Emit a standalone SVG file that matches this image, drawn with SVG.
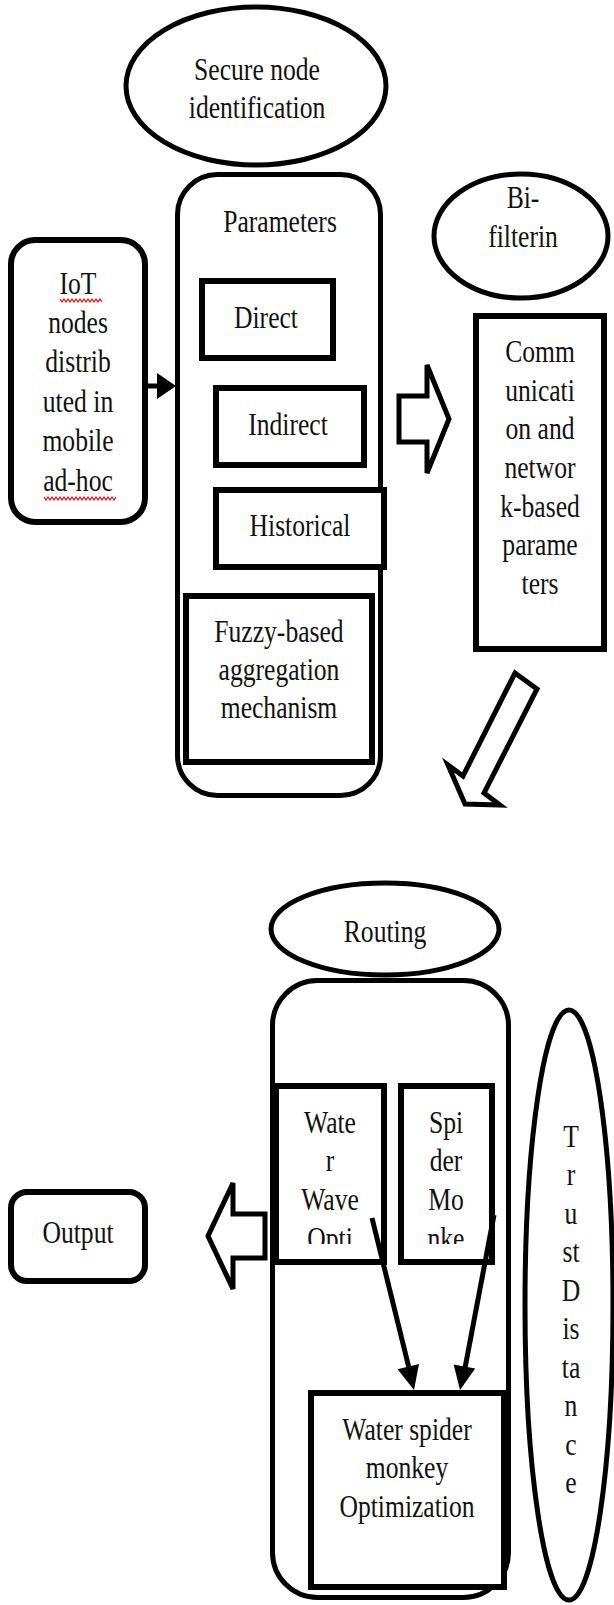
<svg xmlns="http://www.w3.org/2000/svg" width="614" height="1605" viewBox="0 0 614 1605">
<defs>
<style>
.t{font-family:"Liberation Serif","Times New Roman",serif;font-size:32px;fill:#111;text-anchor:middle}
.s5{fill:#fff;stroke:#000;stroke-width:5}
.s6{fill:#fff;stroke:#000;stroke-width:6}
.sq{fill:none;stroke:#e00;stroke-width:1.2}
.ba{fill:#fff;stroke:#000;stroke-width:5;stroke-linejoin:miter}
.ln{fill:none;stroke:#000;stroke-width:5}
.hd{fill:#000;stroke:none}
</style>
<clipPath id="cw" clipPathUnits="userSpaceOnUse"><rect x="270" y="1080" width="240" height="164"/></clipPath>
</defs>
<rect width="614" height="1605" fill="#fff"/>

<g id="secure-node">
<ellipse class="s5" cx="256" cy="86" rx="130" ry="79"/>
<text class="t" transform="matrix(0.8,0,0,1,257,0)"><tspan x="0" y="80">Secure node</tspan><tspan x="0" y="118">identification</tspan></text>
</g>

<g id="parameters">
<rect class="s5" x="177.5" y="174.5" width="203" height="621" rx="40"/>
<text class="t" transform="matrix(0.8,0,0,1,280,0)" x="0" y="232">Parameters</text>
</g>

<g id="direct">
<rect class="s6" x="202" y="281" width="131" height="77"/>
<text class="t" transform="matrix(0.8,0,0,1,266,0)" x="0" y="328">Direct</text>
</g>

<g id="indirect">
<rect class="s6" x="216" y="388" width="148" height="77"/>
<text class="t" transform="matrix(0.8,0,0,1,288,0)" x="0" y="435">Indirect</text>
</g>

<g id="historical">
<rect class="s6" x="216" y="490" width="168" height="77"/>
<text class="t" transform="matrix(0.8,0,0,1,300,0)" x="0" y="536">Historical</text>
</g>

<g id="fuzzy">
<rect class="s6" x="186" y="596" width="186" height="166"/>
<text class="t" transform="matrix(0.8,0,0,1,279,0)"><tspan x="0" y="642">Fuzzy-based</tspan><tspan x="0" y="680">aggregation</tspan><tspan x="0" y="718">mechanism</tspan></text>
</g>

<g id="iot-nodes">
<rect class="s6" x="11" y="240" width="134" height="282" rx="24"/>
<text class="t" transform="matrix(0.8,0,0,1,78,0)"><tspan x="0" y="294">IoT</tspan><tspan x="0" y="333">nodes</tspan><tspan x="0" y="372">distrib</tspan><tspan x="0" y="412">uted in</tspan><tspan x="0" y="451">mobile</tspan><tspan x="0" y="491">ad-hoc</tspan></text>
<polyline class="sq" points="60,299 62,302 64,299 66,302 68,299 70,302 72,299 74,302 76,299 78,302 80,299 82,302 84,299 86,302 88,299 90,302 92,299 94,302 96,299 98,302 100,299 102,302"/>
<polyline class="sq" points="44,497 46,500 48,497 50,500 52,497 54,500 56,497 58,500 60,497 62,500 64,497 66,500 68,497 70,500 72,497 74,500 76,497 78,500 80,497 82,500 84,497 86,500 88,497 90,500 92,497 94,500 96,497 98,500 100,497 102,500 104,497 106,500 108,497 110,500 112,497 114,500 116,497"/>
</g>

<g id="bi-filterin">
<ellipse class="s5" cx="521" cy="236" rx="87" ry="62"/>
<text class="t" transform="matrix(0.8,0,0,1,523,0)"><tspan x="0" y="208">Bi-</tspan><tspan x="0" y="247">filterin</tspan></text>
</g>

<g id="communication">
<rect class="s6" x="476" y="316" width="128" height="333"/>
<text class="t" transform="matrix(0.8,0,0,1,540,0)"><tspan x="0" y="362">Comm</tspan><tspan x="0" y="401">unicati</tspan><tspan x="0" y="439">on and</tspan><tspan x="0" y="478">networ</tspan><tspan x="0" y="517">k-based</tspan><tspan x="0" y="555">parame</tspan><tspan x="0" y="594">ters</tspan></text>
</g>

<g id="routing">
<ellipse class="s5" cx="385" cy="929" rx="114" ry="46"/>
<text class="t" transform="matrix(0.8,0,0,1,385,0)" x="0" y="942">Routing</text>
</g>

<g id="routing-box">
<rect class="s5" x="272.5" y="980.5" width="236" height="617" rx="45"/>
</g>

<g id="water-wave">
<rect class="s6" x="276" y="1086" width="108" height="176"/>
<g clip-path="url(#cw)">
<text class="t" transform="matrix(0.8,0,0,1,330,0)"><tspan x="0" y="1133">Wate</tspan><tspan x="0" y="1171">r</tspan><tspan x="0" y="1210">Wave</tspan><tspan x="0" y="1249">Opti</tspan></text>
</g>
</g>

<g id="spider-monkey">
<rect class="s6" x="401" y="1086" width="91" height="176"/>
<g clip-path="url(#cw)">
<text class="t" transform="matrix(0.8,0,0,1,446,0)"><tspan x="0" y="1133">Spi</tspan><tspan x="0" y="1171">der</tspan><tspan x="0" y="1210">Mo</tspan><tspan x="0" y="1249">nke</tspan></text>
</g>
</g>

<g id="wsmo">
<rect class="s6" x="311" y="1393" width="193" height="194"/>
<text class="t" transform="matrix(0.8,0,0,1,407,0)"><tspan x="0" y="1440">Water spider</tspan><tspan x="0" y="1478">monkey</tspan><tspan x="0" y="1517">Optimization</tspan></text>
</g>

<g id="trust-distance">
<ellipse class="s5" cx="569" cy="1305" rx="44" ry="295"/>
<text class="t" transform="matrix(0.8,0,0,1,571,0)"><tspan x="0" y="1147">T</tspan><tspan x="0" y="1185">r</tspan><tspan x="0" y="1224">u</tspan><tspan x="0" y="1262">st</tspan><tspan x="0" y="1301">D</tspan><tspan x="0" y="1339">is</tspan><tspan x="0" y="1378">ta</tspan><tspan x="0" y="1416">n</tspan><tspan x="0" y="1455">c</tspan><tspan x="0" y="1493">e</tspan></text>
</g>

<g id="output">
<rect class="s6" x="11" y="1192" width="134" height="89" rx="16"/>
<text class="t" transform="matrix(0.8,0,0,1,78,0)" x="0" y="1243">Output</text>
</g>

<g id="connectors">
<line class="ln" x1="148" y1="386" x2="160" y2="386"/>
<polygon class="hd" points="157,373 176,386 157,399"/>
<polygon class="ba" points="399,396 427,396 427,365 449,419 427,473 427,442 399,442"/>
<polygon class="ba" points="515,673 537,689 484,793 500,805 465,804 448,765 463,776"/>
<polygon class="ba" points="265,1214 233,1214 233,1183 208,1236 233,1289 233,1258 265,1258"/>
<line class="ln" x1="372" y1="1218" x2="409" y2="1368"/>
<polygon class="hd" points="419,1364 397.6,1369.3 414,1390"/>
<line class="ln" x1="494" y1="1215" x2="465" y2="1368"/>
<polygon class="hd" points="475.2,1368.4 453.6,1364.4 460,1390"/>
</g>
</svg>
